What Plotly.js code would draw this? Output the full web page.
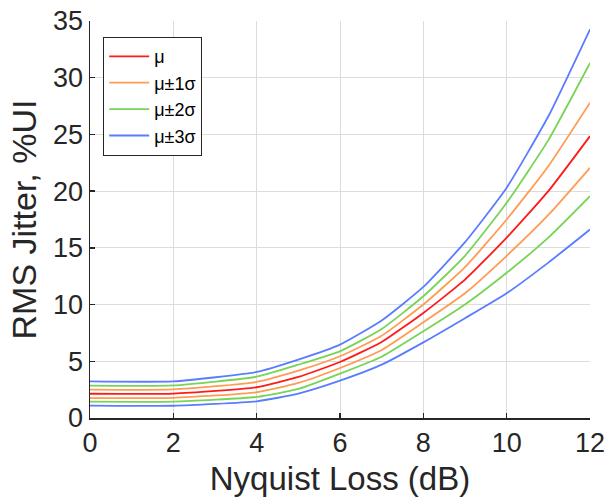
<!DOCTYPE html>
<html>
<head>
<meta charset="utf-8">
<script src="https://cdn.plot.ly/plotly-3.0.1.min.js"></script>
<style>html,body{margin:0;padding:0;background:#fff;}#chart{width:610px;height:499px;}</style>
</head>
<body>
<div id="chart"></div>
<script>
// Nyquist loss (dB)
const nyquistLoss = [0, 2, 4, 5, 6, 7, 8, 9, 10, 11, 12];
// RMS jitter, %UI
const mu        = [2.14, 2.15, 2.71, 3.62, 4.94, 6.70, 9.26, 12.2, 15.9, 20.0, 24.85];
const muPlus1   = [2.50, 2.52, 3.18, 4.17, 5.44, 7.25, 10.0, 13.3, 17.5, 22.2, 27.8];
const muMinus1  = [1.76, 1.78, 2.27, 3.09, 4.41, 6.00, 8.44, 11.0, 14.3, 17.9, 22.06];
const muPlus2   = [2.85, 2.87, 3.65, 4.70, 5.88, 7.85, 10.73, 14.3, 18.97, 24.5, 31.3];
const muMinus2  = [1.44, 1.45, 1.86, 2.56, 3.91, 5.40, 7.64, 10.0, 12.8, 15.9, 19.56];
const muPlus3   = [3.23, 3.23, 4.06, 5.15, 6.47, 8.60, 11.56, 15.5, 20.3, 26.6, 34.27];
const muMinus3  = [1.09, 1.08, 1.47, 2.15, 3.29, 4.70, 6.67, 8.8, 11.0, 13.7, 16.62];

const seriesNames = ['μ', 'μ±1σ', 'μ±2σ', 'μ±3σ'];
const xTicks = [0, 2, 4, 6, 8, 10, 12];
const yTicks = [0, 5, 10, 15, 20, 25, 30, 35];

const colors = ['#ff1a1a', '#ff9b52', '#77d456', '#5a7dff'];

function line(y, idx, show) {
  return {x: nyquistLoss, y: y, type: 'scatter', mode: 'lines', name: seriesNames[idx],
    showlegend: show, legendrank: idx + 1,
    line: {color: colors[idx], width: 1.8, shape: 'spline', smoothing: 0.5}};
}

const traces = [
  line(muPlus3, 3, true),
  line(muMinus3, 3, false),
  line(muPlus2, 2, true),
  line(muMinus2, 2, false),
  line(muPlus1, 1, true),
  line(muMinus1, 1, false),
  line(mu, 0, true)
];

const font = 'Liberation Sans, Arial, sans-serif';
const layout = {
  width: 610, height: 499,
  margin: {l: 90, r: 20, t: 21, b: 81},
  paper_bgcolor: '#fff', plot_bgcolor: '#fff',
  font: {family: font, color: '#262626'},
  showlegend: true,
  legend: {x: 0.026, y: 0.96, xanchor: 'left', yanchor: 'top',
    bgcolor: '#fff', bordercolor: '#262626', borderwidth: 1.2,
    itemwidth: 40,
    font: {family: font, size: 18, color: '#000'}, traceorder: 'normal'},
  xaxis: {range: [0, 12], tickvals: xTicks, ticktext: xTicks.map(String),
    showgrid: true, gridcolor: '#dcdcdc', gridwidth: 1,
    showline: true, linecolor: '#262626', linewidth: 1.5,
    ticks: 'inside', ticklen: 5, tickcolor: '#262626', tickwidth: 1.5,
    tickfont: {family: font, size: 27, color: '#262626'}, zeroline: false,
    title: {text: 'Nyquist Loss (dB)', font: {family: font, size: 33, color: '#262626'}, standoff: 10}},
  yaxis: {range: [0, 35], tickvals: yTicks, ticktext: yTicks.map(String),
    showgrid: true, gridcolor: '#dcdcdc', gridwidth: 1,
    showline: true, linecolor: '#262626', linewidth: 1.5,
    ticks: 'inside', ticklen: 5, tickcolor: '#262626', tickwidth: 1.5,
    tickfont: {family: font, size: 27, color: '#262626'}, zeroline: false,
    title: {text: 'RMS Jitter, %UI', font: {family: font, size: 34, color: '#262626'}, standoff: 6}}
};

Plotly.newPlot('chart', traces, layout, {displayModeBar: false, staticPlot: true});
</script>
</body>
</html>
